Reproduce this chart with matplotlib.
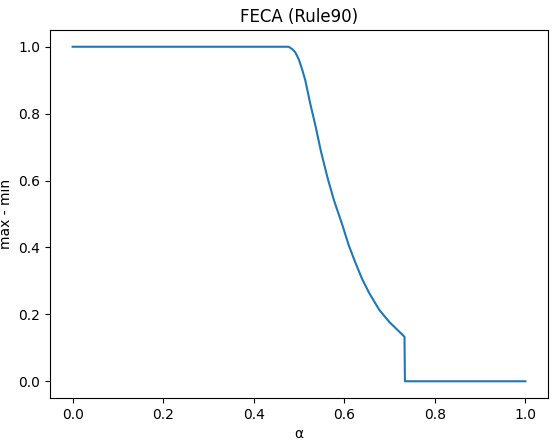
import matplotlib
matplotlib.use("Agg")
import matplotlib.pyplot as plt

alpha = [0.0, 0.477, 0.485, 0.492, 0.4996, 0.507, 0.514, 0.525, 0.537, 0.548, 0.5625,
         0.577, 0.588, 0.596, 0.610, 0.625, 0.640, 0.655, 0.677, 0.699, 0.733, 0.734, 1.0]
max_min = [1.0, 1.0, 0.993, 0.983, 0.962, 0.932, 0.899, 0.829, 0.760, 0.690, 0.611,
           0.542, 0.498, 0.466, 0.406, 0.353, 0.304, 0.264, 0.214, 0.178, 0.133, 0.0, 0.0]

fig = plt.figure(figsize=(5.57, 4.44), dpi=100)
ax = fig.add_axes([50/557, 1-398/444, (548-50)/557, (398-30)/444])
ax.plot(alpha, max_min, color="#1f77b4", linewidth=1.5)
ax.set_title("FECA (Rule90)")
ax.set_xlabel("α")
ax.set_ylabel("max - min")
fig.savefig("out.png", dpi=100)
